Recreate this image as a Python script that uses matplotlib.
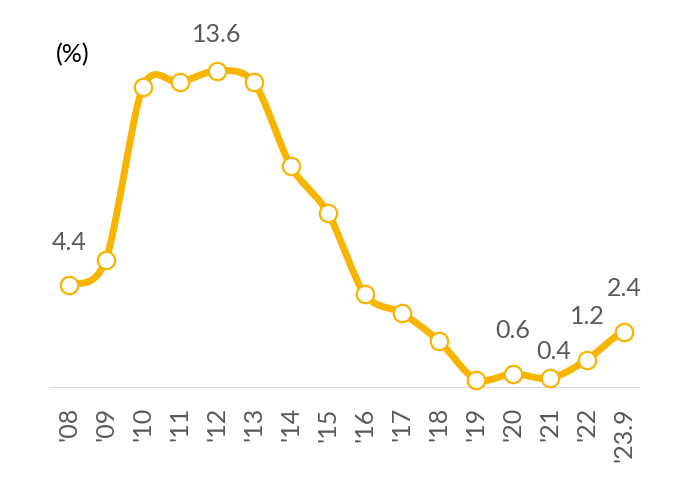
import numpy as np
import matplotlib
matplotlib.use("Agg")
import matplotlib.pyplot as plt

years = ["'08", "'09", "'10", "'11", "'12", "'13", "'14", "'15", "'16",
         "'17", "'18", "'19", "'20", "'21", "'22", "'23.9"]
rates = [4.4, 5.5, 12.9, 13.1, 13.6, 13.1, 9.5, 7.5, 4.0,
         3.2, 2.0, 0.35, 0.6, 0.4, 1.2, 2.4]
labelled = {"'08": "4.4", "'12": "13.6", "'20": "0.6", "'21": "0.4",
            "'22": "1.2", "'23.9": "2.4"}

yellow = "#F7B500"
grey = "#595959"
plt.rcParams["font.family"] = ["Lato", "DejaVu Sans"]


def smooth(x, y, n=20, t=0.45):
    # cardinal spline through the points, for the drawn line only
    x = np.asarray(x, float)
    y = np.asarray(y, float)
    px = np.concatenate([[2 * x[0] - x[1]], x, [2 * x[-1] - x[-2]]])
    py = np.concatenate([[y[0]], y, [y[-1]]])
    xs, ys = [], []
    s = np.linspace(0, 1, n, endpoint=False)
    h00 = 2 * s**3 - 3 * s**2 + 1
    h10 = s**3 - 2 * s**2 + s
    h01 = -2 * s**3 + 3 * s**2
    h11 = s**3 - s**2
    for i in range(1, len(px) - 2):
        for p, out in ((px, xs), (py, ys)):
            p0, p1, p2, p3 = p[i - 1], p[i], p[i + 1], p[i + 2]
            m1 = t * (p2 - p0)
            m2 = t * (p3 - p1)
            out.extend(h00 * p1 + h10 * m1 + h01 * p2 + h11 * m2)
    xs.append(x[-1])
    ys.append(y[-1])
    return np.array(xs), np.array(ys)


fig = plt.figure(figsize=(6.93, 4.9), dpi=100)
ax = fig.add_axes([50 / 693, 102.3 / 490, 590 / 693, 367.7 / 490])
x = np.arange(len(years))

sx, sy = smooth(x, rates)
ax.plot(sx, sy, color=yellow, lw=5, solid_capstyle="round", clip_on=False, zorder=2)
ax.plot(x, rates, "o", ms=12.5, mfc="white", mec=yellow, mew=1.6, clip_on=False, zorder=3)

# label offsets in pixels (dx, dy)
offs = {"'12": (0, 36), "'21": (4, 27)}
for i, yr in enumerate(years):
    if yr in labelled:
        dx, dy = offs.get(yr, (0, 43))
        ax.annotate(labelled[yr], (x[i], rates[i]), xytext=(dx * 0.72, dy * 0.72),
                    textcoords="offset points", ha="center", va="center",
                    fontsize=18, color=grey)

ax.axhline(0, color="#d9d9d9", lw=1.5, zorder=1)
ax.set_xlim(-0.51, 15.43)
ax.set_ylim(0, 15.78)
ax.set_xticks(x)
ax.set_xticklabels(years, rotation=90, fontsize=18, color=grey, va="top")
ax.tick_params(axis="x", length=0, pad=14)
ax.set_yticks([])
for sp in ax.spines.values():
    sp.set_visible(False)

fig.text(73 / 693, 1 - 55 / 490, "(%)", ha="center", va="center", fontsize=18,
         color="black")

fig.savefig("out.png", dpi=100)
